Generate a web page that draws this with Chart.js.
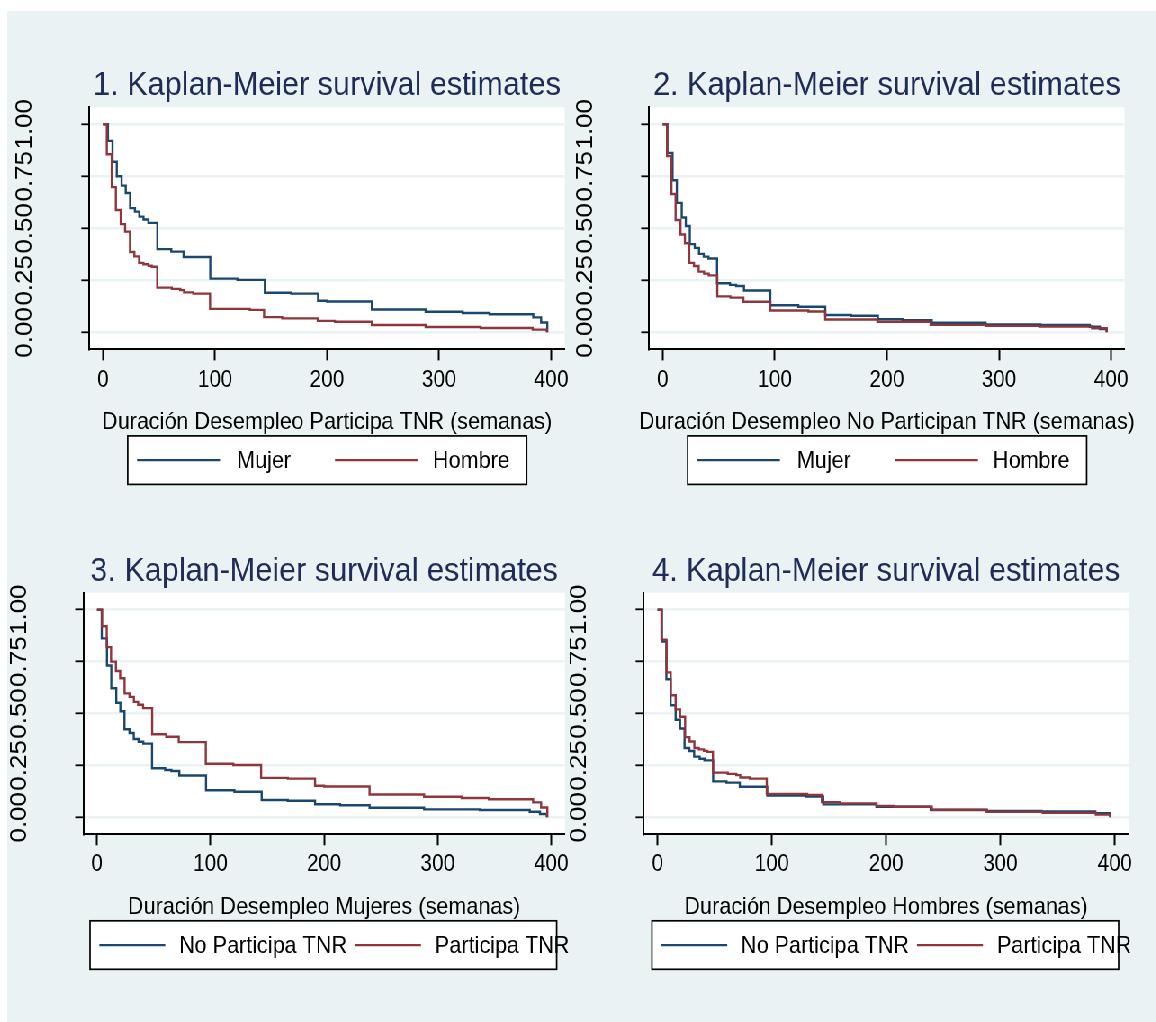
<!DOCTYPE html>
<html>
<head>
<meta charset="utf-8">
<script src="https://cdn.jsdelivr.net/npm/chart.js@4.4.1/dist/chart.umd.min.js"></script>
<style>
  html,body{margin:0;background:#fff;overflow:hidden;}
  #fondo{position:absolute;left:7px;top:11px;width:1149px;height:1011px;background:#eaf2f3;}
  /* el grafico original esta comprimido en horizontal: dibujamos ancho y encogemos */
  #lienzo{position:absolute;left:0;top:0;width:1285px;height:1022px;transform:scaleX(.9);transform-origin:0 0;}
  #lienzo canvas{position:absolute;left:0;top:0;}
</style>
</head>
<body>
<div id="fondo"></div>
<div id="lienzo"></div>
<script>
/* ==== datos ==== */
const xTicks = [0,100,200,300,400];
const yTicks = [0,0.25,0.5,0.75,1];
const yTickLabels = ['0.00','0.25','0.50','0.75','1.00'];

// Mujer, participa TNR
const tMujerTNR = [0,4.5,8.6,12.4,16.7,20.4,24.3,28.6,32.5,36.2,40.6,48.6,61,72,95.8,120,144.5,168,192,200,240,288,321,345,384,391,396.5];
const sMujerTNR = [1,0.92,0.82,0.75,0.705,0.67,0.597,0.58,0.556,0.542,0.526,0.40,0.388,0.362,0.258,0.252,0.19,0.186,0.152,0.148,0.11,0.099,0.093,0.087,0.072,0.047,0];
// Hombre, participa TNR
const tHombreTNR = [0,3.5,7.9,11.6,15.9,19.8,24.2,28.1,32.3,36.2,40.6,43.6,48.5,61.5,69,72.4,80.7,95.6,131,143.8,160,191.7,207,240,288,337,383.5,396];
const sHombreTNR = [1,0.856,0.698,0.588,0.52,0.484,0.386,0.365,0.334,0.327,0.32,0.315,0.215,0.209,0.203,0.192,0.186,0.113,0.108,0.073,0.067,0.055,0.051,0.035,0.026,0.021,0.013,0];
// Mujer, no participa
const tMujerNoTNR = [0,4.2,8.8,12.6,17,20.6,24.2,28.6,32.4,36.6,40.8,48.5,60,65.5,72.5,96,121,145,168,192,214,240,288,337,381,390,396];
const sMujerNoTNR = [1,0.862,0.731,0.622,0.552,0.511,0.424,0.406,0.377,0.364,0.355,0.236,0.228,0.223,0.201,0.13,0.123,0.083,0.08,0.063,0.058,0.046,0.038,0.035,0.027,0.016,0];
// Hombre, no participa
const tHombreNoTNR = [0,3.9,7.8,11.5,15.9,19.8,23.7,27.9,32.1,36.9,41.1,48.7,60.4,72,96,130,145,191.5,239,288,336,383,396];
const sHombreNoTNR = [1,0.847,0.665,0.54,0.47,0.428,0.334,0.319,0.292,0.282,0.274,0.173,0.167,0.147,0.105,0.1,0.062,0.051,0.036,0.031,0.028,0.02,0];

/* ==== estilo ==== */
const S = 0.9, CW = 1285, CH = 1022;
const FONT = '"Liberation Sans", Arial, Helvetica, sans-serif';
const AZUL = '#1a476f', GRANATE = '#90353b', FONDO = '#eaf2f3';

/* plot: [izq, der, arriba, abajo] en pixeles de pantalla */
const panels = [
  {title:'1. Kaplan-Meier survival estimates', xTitle:'Duración Desempleo Participa TNR (semanas)',
   labels:['Mujer','Hombre'], series:[[tMujerTNR,sMujerTNR],[tHombreTNR,sHombreTNR]],
   plot:[89.4,564.7,107.2,349.4], leg:{box:[127.7,526.7], keys:[137,335], keyLen:83, text:[237,433]}},
  {title:'2. Kaplan-Meier survival estimates', xTitle:'Duración Desempleo No Participan TNR (semanas)',
   labels:['Mujer','Hombre'], series:[[tMujerNoTNR,sMujerNoTNR],[tHombreNoTNR,sHombreNoTNR]],
   plot:[649.3,1124.6,107.2,349.4], leg:{box:[687.7,1086.7], keys:[697,895], keyLen:83, text:[797,993]}},
  {title:'3. Kaplan-Meier survival estimates', xTitle:'Duración Desempleo Mujeres (semanas)',
   labels:['No Participa TNR','Participa TNR'], series:[[tMujerNoTNR,sMujerNoTNR],[tMujerTNR,sMujerTNR]],
   plot:[83.3,565,592.7,834.3], leg:{box:[90,556.7], keys:[99.3,355], keyLen:66, text:[179,435]}},
  {title:'4. Kaplan-Meier survival estimates', xTitle:'Duración Desempleo Hombres (semanas)',
   labels:['No Participa TNR','Participa TNR'], series:[[tHombreNoTNR,sHombreNoTNR],[tHombreTNR,sHombreTNR]],
   plot:[643.8,1128.5,592.7,834.3], leg:{box:[652,1118.7], keys:[661.3,917], keyLen:66, text:[741,997]}}
];

/* titulo, etiquetas y girados, titulo x y leyenda con recuadro */
function decor(p){
  return {
    id:'decor',
    beforeDraw(c){
      const a = c.chartArea;
      c.ctx.save(); c.ctx.fillStyle='#fff'; c.ctx.fillRect(a.left,a.top,a.width,a.height); c.ctx.restore();
    },
    afterDraw(c){
      const ctx = c.ctx, [L,R,T,B] = p.plot, cx = (L+R)/2/S;
      ctx.save();
      ctx.textAlign='center'; ctx.textBaseline='alphabetic';
      ctx.fillStyle='#1f2c58'; ctx.font=`34px ${FONT}`;
      ctx.fillText(p.title, cx, T-12);

      ctx.fillStyle='#000'; ctx.font=`26px ${FONT}`;
      const ys = c.scales.y;
      yTicks.forEach((v,i)=>{
        ctx.save();
        ctx.translate((L-57.5)/S, ys.getPixelForValue(v));
        ctx.rotate(-Math.PI/2);
        ctx.fillText(yTickLabels[i],0,0);
        ctx.restore();
      });

      ctx.font=`24px ${FONT}`;
      ctx.fillText(p.xTitle, cx, B+80);

      const lg = p.leg, y0 = B+86.5, h = 48.5, ym = y0+h/2;
      ctx.fillStyle='#fff'; ctx.fillRect(lg.box[0]/S, y0, (lg.box[1]-lg.box[0])/S, h);
      ctx.strokeStyle='#000'; ctx.lineWidth=1.7; ctx.strokeRect(lg.box[0]/S, y0, (lg.box[1]-lg.box[0])/S, h);
      p.labels.forEach((lab,k)=>{
        ctx.strokeStyle = k ? GRANATE : AZUL; ctx.lineWidth=2.3;
        ctx.beginPath(); ctx.moveTo(lg.keys[k]/S, ym); ctx.lineTo((lg.keys[k]+lg.keyLen)/S, ym); ctx.stroke();
        ctx.fillStyle='#000'; ctx.textAlign='left'; ctx.textBaseline='middle';
        ctx.fillText(lab, lg.text[k]/S, ym+1);
      });
      ctx.restore();
    }
  };
}

const host = document.getElementById('lienzo');
panels.forEach(p=>{
  const cv = document.createElement('canvas');
  cv.width = CW; cv.height = CH;
  cv.style.width = CW+'px'; cv.style.height = CH+'px';
  host.appendChild(cv);
  const [L,R,T,B] = p.plot, yW = 10, xH = 40;

  new Chart(cv,{
    type:'line',
    data:{datasets: p.series.map((s,k)=>({
      label: p.labels[k],
      data: s[0].map((t,j)=>({x:t, y:s[1][j]})),
      borderColor: k ? GRANATE : AZUL,
      borderWidth: 2.4, pointRadius: 0, stepped: true, fill: false,
      order: k ? 0 : 1            // la roja encima
    }))},
    options:{
      responsive:false, animation:false, devicePixelRatio:1,
      layout:{padding:{left:L/S-yW, right:CW-R/S, top:T, bottom:CH-B-xH}},
      plugins:{legend:{display:false}, tooltip:{enabled:false}},
      scales:{
        x:{type:'linear', min:-12, max:412,
           afterBuildTicks: s=>{ s.ticks = xTicks.map(v=>({value:v})); },
           afterFit: s=>{ s.height = xH; s.paddingLeft = 0; s.paddingRight = 0; },
           grid:{drawOnChartArea:false, tickLength:11, tickColor:'#000', tickWidth:2},
           border:{color:'#000', width:2},
           ticks:{color:'#000', font:{family:FONT, size:23}, padding:6, maxRotation:0, autoSkip:false}},
        y:{type:'linear', min:-0.082, max:1.082,
           afterBuildTicks: s=>{ s.ticks = yTicks.map(v=>({value:v})); },
           afterFit: s=>{ s.width = yW; s.paddingTop = 0; s.paddingBottom = 0; },
           grid:{color:FONDO, lineWidth:2.6, tickLength:9, tickColor:'#000', tickWidth:1.8},
           border:{color:'#000', width:2},
           ticks:{display:false}}
      }
    },
    plugins:[decor(p)]
  });
});
</script>
</body>
</html>
